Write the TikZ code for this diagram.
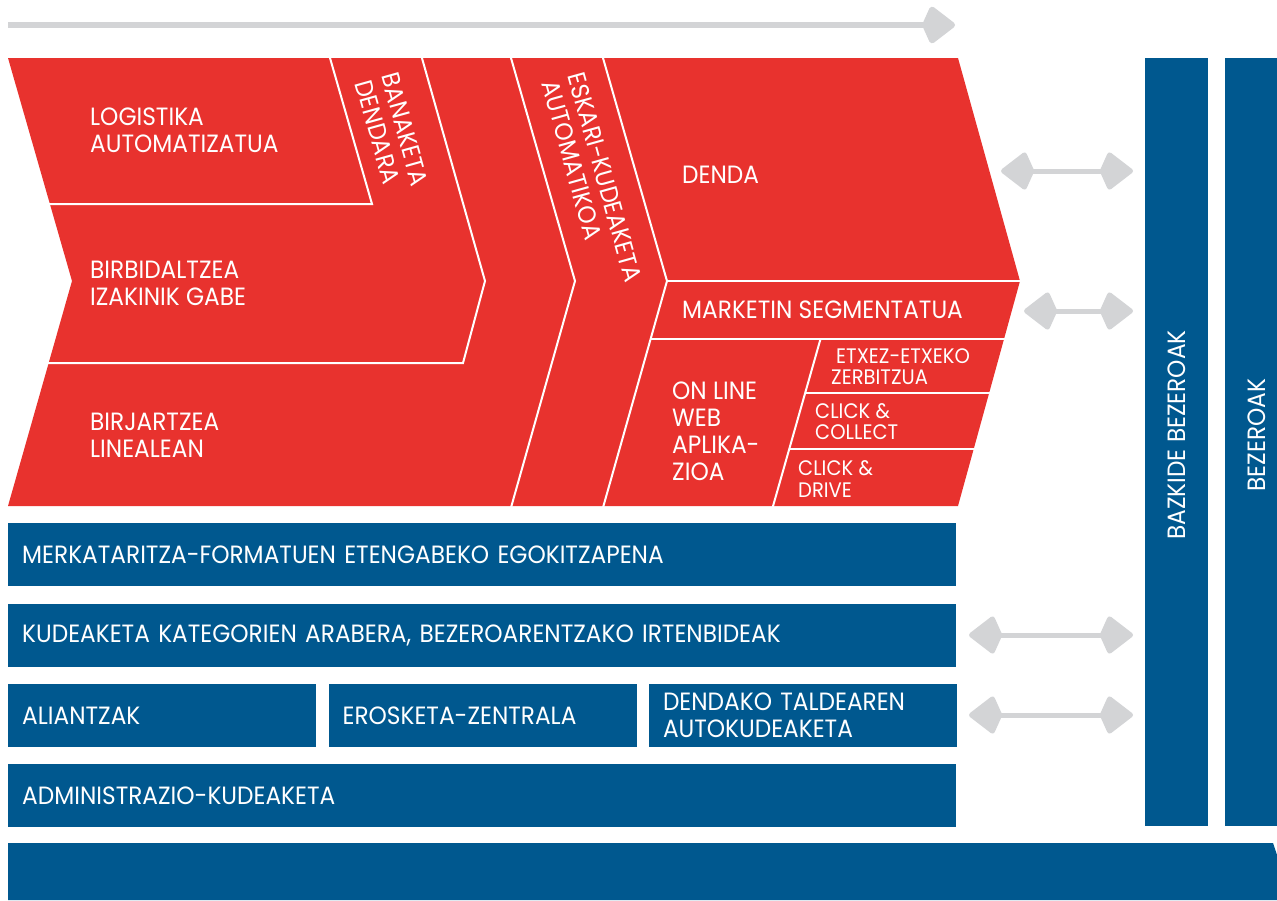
\documentclass[tikz,border=0pt]{standalone}
\usepackage{fontspec}
\setmainfont{Poppins}[FakeStretch=0.93]
\usetikzlibrary{positioning,arrows.meta}

\definecolor{chainred}{HTML}{E8322E}
\definecolor{basisblue}{HTML}{00588F}
\definecolor{flowgray}{HTML}{D3D4D6}

\begin{document}
\begin{tikzpicture}[
    x=1pt, y=-1pt,
    node distance=17pt and 12pt,
    >={Kite[length=35pt, width=40pt, inset=9pt, round]},
    lbl/.style={
      text=white,
      align=left,
      anchor=west,
      inner sep=0pt,
      font=\fontsize{25}{27}\selectfont
    },
    small/.style={lbl, font=\fontsize{21}{21.5}\selectfont},
    slanted/.style={lbl, anchor=center, rotate=-74.4},
    bar/.style={
      fill=basisblue,
      text=white,
      anchor=north west,
      align=left,
      minimum height=63pt,
      inner xsep=14pt,
      font=\fontsize{25}{27}\selectfont
    },
    post/.style={
      fill=basisblue,
      text=white,
      rotate=90,
      minimum width=768pt,
      minimum height=63pt,
      font=\fontsize{25}{27}\selectfont
    },
    cut/.style={draw=white, line width=2pt},
    twoway/.style={<->, draw=flowgray, line width=5pt}
  ]
    \useasboundingbox (0,0) rectangle (1277,900);

    % process arrow on top
    \coordinate (flowstart) at (8,25);
    \coordinate (flowend) at (955,25);
    \draw[->, draw=flowgray, line width=6pt] (flowstart) -- (flowend);

    % red chain
    \fill[chainred] (8,58) -- (958,58) -- (1020,281) -- (958,506) -- (8,506) -- (72,281) -- cycle;
    \draw[cut] (40,204) -- (372,204) -- (327.7,50);
    \draw[cut] (419.7,50) -- (485,281) -- (463,363) -- (30,363);
    \draw[cut] (508.7,50) -- (575,281) -- (508.9,515);
    \draw[cut] (600.7,50) -- (667,281) -- (600.9,515);
    \draw[cut] (667,281) -- (1030,281);
    \draw[cut] (650.6,339) -- (1012,339);
    \draw[cut] (820.5,339) -- (770.5,515);
    \draw[cut] (805.2,393) -- (1005,393);
    \draw[cut] (789.4,449) -- (995,449);

    \node[lbl] (logi) at (90,130.5) {LOGISTIKA\\AUTOMATIZATUA};
    \node[lbl] (birb) at (90,283.5) {BIRBIDALTZEA\\IZAKINIK GABE};
    \node[lbl] (birj) at (90,435) {BIRJARTZEA\\LINEALEAN};
    \node[slanted] (bana) at (392,133) {BANAKETA\\DENDARA};
    \node[slanted] (eska) at (592,181) {ESKARI-KUDEAKETA\\AUTOMATIKOA};
    \node[lbl] (denda) at (682,175) {DENDA};
    \node[lbl] (mark) at (682,310) {MARKETIN SEGMENTATUA};
    \node[lbl] (online) at (672,431) {ON LINE\\WEB\\APLIKA-\\ZIOA};
    \node[small] (etxe) at (831,366.5) {\hspace*{5pt}ETXEZ-ETXEKO\\ZERBITZUA};
    \node[small] (collect) at (815,421.5) {CLICK \&\\COLLECT};
    \node[small] (drive) at (798,479) {CLICK \&\\DRIVE};

    % blue base
    \node[bar, text width=920pt] (merk) at (8,523) {MERKATARITZA-FORMATUEN ETENGABEKO EGOKITZAPENA};
    \node[bar, text width=920pt, below=of merk] (kude) {KUDEAKETA KATEGORIEN ARABERA, BEZEROARENTZAKO IRTENBIDEAK};
    \node[bar, text width=280pt, below=17pt of kude.south west, anchor=north west] (alli) {ALIANTZAK};
    \node[bar, text width=280pt, right=of alli] (eros) {EROSKETA-ZENTRALA};
    \node[bar, text width=280pt, right=of eros] (talde) {DENDAKO TALDEAREN\\AUTOKUDEAKETA};
    \node[bar, text width=920pt, below=17pt of alli.south west, anchor=north west] (admin) {ADMINISTRAZIO-KUDEAKETA};

    \node[post] (bazk) at (1176.5,442) {\hspace*{14pt}BAZKIDE BEZEROAK};
    \node[post] (bez) at (1256.5,442) {\hspace*{14pt}BEZEROAK};

    \fill[basisblue] (8,843) -- (1273,843) -- (1292,900) -- (8,900) -- cycle;

    % links to the customers
    \coordinate (dendaR) at (1001,171);
    \coordinate (dendaC) at (1133,171);
    \coordinate (markR) at (1024,311);
    \coordinate (markC) at (1133,311);
    \coordinate (kudeR) at (969,635);
    \coordinate (kudeC) at (1133,635);
    \coordinate (taldeR) at (969,715);
    \coordinate (taldeC) at (1133,715);
    \draw[twoway] (dendaR) -- (dendaC);
    \draw[twoway] (markR) -- (markC);
    \draw[twoway] (kudeR) -- (kudeC);
    \draw[twoway] (taldeR) -- (taldeC);
  \end{tikzpicture}
\end{document}
